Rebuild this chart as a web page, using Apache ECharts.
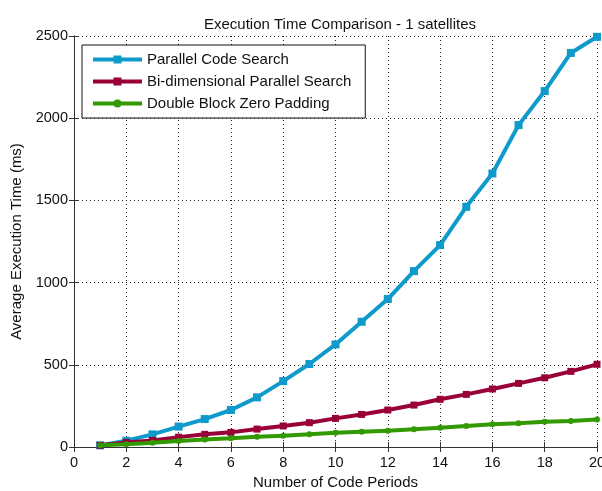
<!DOCTYPE html>
<html>
<head>
<meta charset="utf-8">
<script src="https://cdn.jsdelivr.net/npm/echarts@6/dist/echarts.min.js"></script>
<style>html,body{margin:0;padding:0;background:#fff;}#c{width:602px;height:491px;}</style>
</head>
<body>
<div id="c"></div>
<script>
const codePeriods = [1,2,3,4,5,6,7,8,9,10,11,12,13,14,15,16,17,18,19,20];
const parallelCodeSearch = [10,38,77,124,170,225,302,401,505,624,762,900,1070,1228,1461,1664,1958,2165,2397,2495];
const biDimensionalSearch = [10,28,40,60,77,89,109,128,148,174,198,225,255,290,320,353,387,421,460,503];
const doubleBlockZeroPadding = [10,16,26,36,46,53,63,69,77,87,93,99,108,117,128,138,144,154,158,168];
const seriesNames = ['Parallel Code Search','Bi-dimensional Parallel Search','Double Block Zero Padding'];

const FONT = 'Liberation Sans, Arial, sans-serif';
const pair = (arr) => codePeriods.map((x, i) => [x, arr[i]]);
const chart = echarts.init(document.getElementById('c'), null, {renderer: 'canvas'});
const axisLine = {show: true, lineStyle: {color: '#333', width: 1}};
const tick = {show: true, inside: true, length: 5, lineStyle: {color: '#333'}};
const gridLine = {show: true, lineStyle: {color: '#222', type: [1, 3], width: 1}};
chart.setOption({
  backgroundColor: '#fff',
  animation: false,
  title: {
    text: 'Execution Time Comparison - 1 satellites',
    left: 335, top: 12, textAlign: 'center',
    textStyle: {fontFamily: FONT, fontSize: 15, fontWeight: 'normal', color: '#111'}
  },
  grid: {left: 74, right: 5, top: 36, bottom: 44, containLabel: false, outerBoundsMode: 'none'},
  legend: {
    orient: 'vertical', left: 82, top: 45,
    backgroundColor: '#fff', borderColor: '#111', borderWidth: 1,
    padding: [7, 14, 7, 9], itemGap: 7, itemWidth: 49, itemHeight: 10,
    lineStyle: {width: 4},
    textStyle: {fontFamily: FONT, fontSize: 15, color: '#111'},
    data: seriesNames
  },
  xAxis: [{
    type: 'value', min: 0, max: 20, interval: 2,
    name: 'Number of Code Periods', nameLocation: 'middle', nameGap: 28,
    nameTextStyle: {fontFamily: FONT, fontSize: 15, color: '#111'},
    axisLine: axisLine, axisTick: tick,
    axisLabel: {fontFamily: FONT, fontSize: 14.5, color: '#111', margin: 8},
    splitLine: gridLine
  }, {
    type: 'value', min: 0, max: 20, interval: 2, position: 'top',
    axisLine: axisLine, axisTick: tick,
    axisLabel: {show: false}, splitLine: {show: false}
  }],
  yAxis: [{
    type: 'value', min: 0, max: 2500, interval: 500,
    name: 'Average Execution Time (ms)', nameLocation: 'middle', nameGap: 40,
    nameTextStyle: {fontFamily: FONT, fontSize: 15, color: '#111'},
    axisLine: axisLine, axisTick: tick,
    axisLabel: {fontFamily: FONT, fontSize: 14.5, color: '#111', margin: 6, formatter: (v) => String(v)},
    splitLine: gridLine
  }, {
    type: 'value', min: 0, max: 2500, interval: 500, position: 'right',
    axisLine: axisLine, axisTick: tick,
    axisLabel: {show: false}, splitLine: {show: false}
  }],
  series: [{
    name: seriesNames[0], type: 'line', data: pair(parallelCodeSearch),
    symbol: 'rect', symbolSize: 8, showAllSymbol: true,
    lineStyle: {color: '#0e9acb', width: 4}, itemStyle: {color: '#0e9acb'}, z: 3
  }, {
    name: seriesNames[1], type: 'line', data: pair(biDimensionalSearch),
    symbol: 'rect', symbolSize: 7, showAllSymbol: true,
    lineStyle: {color: '#990038', width: 4}, itemStyle: {color: '#990038'}, z: 4
  }, {
    name: seriesNames[2], type: 'line', data: pair(doubleBlockZeroPadding),
    symbol: 'circle', symbolSize: 6, showAllSymbol: true,
    lineStyle: {color: '#339900', width: 4}, itemStyle: {color: '#339900'}, z: 5
  }]
});
</script>
</body>
</html>
